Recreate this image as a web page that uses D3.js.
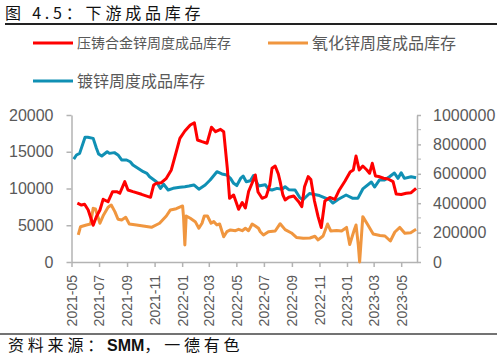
<!DOCTYPE html>
<html>
<head>
<meta charset="utf-8">
<script src="https://cdn.jsdelivr.net/npm/d3@7"></script>
<style>
  body { margin: 0; background: #fff; }
  text { font-family: "Liberation Sans", "Noto Sans CJK SC", sans-serif; }
  .cjk { font-family: "Noto Sans CJK SC", sans-serif; }
</style>
</head>
<body>
<div id="chart"></div>
<script>
// 数据：压铸合金锌周度成品库存（左轴）
const redDates = ["2021-05-14","2021-05-23","2021-05-30","2021-06-07","2021-06-18","2021-06-25","2021-07-03","2021-07-10","2021-07-21","2021-07-31","2021-08-09","2021-08-16","2021-08-27","2021-09-03","2021-09-14","2021-10-03","2021-10-23","2021-10-30","2021-11-05","2021-11-16","2021-11-27","2021-12-08","2021-12-18","2021-12-27","2022-01-07","2022-01-19","2022-01-28","2022-02-04","2022-02-14","2022-02-25","2022-03-07","2022-03-16","2022-03-27","2022-04-03","2022-04-11","2022-04-16","2022-04-25","2022-05-06","2022-05-14","2022-05-21","2022-05-28","2022-06-05","2022-06-12","2022-06-18","2022-06-27","2022-07-06","2022-07-14","2022-07-19","2022-07-26","2022-08-02","2022-08-06","2022-08-12","2022-08-17","2022-08-25","2022-09-05","2022-09-16","2022-09-23","2022-09-29","2022-10-07","2022-10-13","2022-10-21","2022-10-29","2022-11-05","2022-11-13","2022-11-24","2022-12-05","2022-12-15","2022-12-27","2023-01-08","2023-01-15","2023-01-21","2023-01-28","2023-02-05","2023-02-14","2023-02-20","2023-02-26","2023-03-05","2023-03-12","2023-03-23","2023-04-02","2023-04-13","2023-04-20","2023-05-01","2023-05-12","2023-05-23","2023-06-03"];
const redValues = [8000,7750,7850,7080,4990,6160,7080,8530,8200,9570,9570,9350,10930,9800,9570,9210,8800,10480,10710,10790,11390,12520,14790,16830,17820,18640,18950,16600,16370,16150,18330,17730,18050,17730,12750,8670,9120,7170,8100,7350,9570,10750,11840,9530,8670,8890,10480,12750,13060,11970,10930,9120,8440,8800,8980,8210,7530,10250,11610,11230,8300,6170,4700,8300,8780,8530,9800,10950,12250,12520,14420,12520,13060,12520,12070,13430,11700,11630,11390,11290,10930,9250,9190,9350,9430,10030];

// 氧化锌周度成品库存（左轴）
const orangeDates = ["2021-05-16","2021-05-21","2021-06-03","2021-06-12","2021-06-18","2021-06-23","2021-07-03","2021-07-11","2021-07-21","2021-07-28","2021-08-05","2021-08-12","2021-08-20","2021-08-29","2021-09-06","2021-09-22","2021-10-25","2021-11-12","2021-11-27","2021-12-06","2021-12-19","2022-01-02","2022-01-04","2022-01-07","2022-01-10","2022-01-19","2022-01-30","2022-02-07","2022-02-14","2022-02-19","2022-02-26","2022-03-06","2022-03-12","2022-03-19","2022-03-25","2022-04-03","2022-04-10","2022-04-18","2022-04-29","2022-05-06","2022-05-14","2022-05-21","2022-05-28","2022-06-05","2022-06-12","2022-06-19","2022-06-23","2022-06-30","2022-07-11","2022-07-26","2022-08-06","2022-08-17","2022-08-31","2022-09-11","2022-09-26","2022-10-11","2022-10-22","2022-10-29","2022-11-09","2022-11-19","2022-11-26","2022-12-09","2022-12-20","2022-12-31","2023-01-07","2023-01-17","2023-01-21","2023-01-26","2023-01-29","2023-02-05","2023-02-15","2023-02-28","2023-03-15","2023-03-26","2023-04-07","2023-04-17","2023-04-28","2023-05-09","2023-05-22","2023-06-03"];
const orangeValues = [3680,4800,5040,5170,7300,7210,5270,6400,7440,7760,6850,5810,5720,6080,5170,5040,4720,5270,6260,7080,7250,7620,6190,2320,6260,5950,5490,4590,5270,6260,6260,5270,5490,5040,5170,3440,4120,4360,4260,4450,4260,4590,4260,5170,4900,4590,4120,3680,4120,4220,5210,4400,3950,3340,3230,3270,3500,3000,3540,5170,4220,4290,4220,4700,2380,4360,5040,2320,0,6170,5170,3810,3610,3540,2860,4080,4700,3910,3990,4450];

// 镀锌周度成品库存（右轴）
const blueDates = ["2021-05-06","2021-05-12","2021-05-19","2021-05-31","2021-06-06","2021-06-18","2021-06-25","2021-06-30","2021-07-07","2021-07-19","2021-07-24","2021-08-04","2021-08-12","2021-08-20","2021-08-31","2021-09-08","2021-09-14","2021-10-07","2021-10-15","2021-10-21","2021-11-05","2021-11-14","2021-11-21","2021-12-01","2021-12-12","2021-12-27","2022-01-07","2022-01-16","2022-01-27","2022-02-07","2022-02-21","2022-03-04","2022-03-19","2022-03-30","2022-04-10","2022-04-18","2022-04-25","2022-05-02","2022-05-11","2022-05-16","2022-05-23","2022-06-01","2022-06-08","2022-06-19","2022-07-04","2022-07-11","2022-07-19","2022-07-30","2022-08-10","2022-08-17","2022-08-25","2022-09-08","2022-09-18","2022-09-25","2022-10-10","2022-11-01","2022-11-24","2022-12-01","2022-12-12","2022-12-30","2023-01-14","2023-01-25","2023-02-05","2023-02-24","2023-03-03","2023-03-14","2023-03-25","2023-04-05","2023-04-16","2023-04-24","2023-05-01","2023-05-08","2023-05-23","2023-06-03"];
const blueValues = [700000,728000,739000,848000,848000,841000,775000,735000,721000,750000,739000,744000,728000,694000,694000,682000,660000,614000,603000,580000,546000,501000,529000,490000,501000,508000,512000,517000,524000,495000,524000,558000,614000,599000,592000,569000,535000,520000,571000,585000,546000,553000,588000,517000,526000,495000,490000,501000,495000,512000,492000,490000,440000,422000,466000,452000,422000,401000,425000,456000,433000,433000,497000,544000,510000,558000,558000,580000,605000,569000,607000,569000,580000,573000];

const leftTicks = [0, 5000, 10000, 15000, 20000];
const rightTicks = [0, 200000, 400000, 600000, 800000, 1000000];
const rightMinor = [100000, 300000, 500000, 700000, 900000];

const W = 497, H = 362;
const plot = { left: 71.5, right: 417, top: 115, bottom: 262 };
const parse = d3.timeParse("%Y-%m-%d");
const axisGrey = "#b3b3b3";
const labelGrey = "#595959";

var svg = d3.select("#chart").append("svg")
  .attr("width", W).attr("height", H);

// 标题与分隔线
svg.append("text").attr("class", "cjk")
  .attr("x", 5).attr("y", 19)
  .style("font-size", "16px").style("letter-spacing", "3.8px").style("fill", "#111")
  .text("图 4.5：下游成品库存");
svg.append("line").attr("x1", 5).attr("x2", W).attr("y1", 24).attr("y2", 24)
  .attr("stroke", "#222").attr("stroke-width", 2);
svg.append("line").attr("x1", 0).attr("x2", W).attr("y1", 334).attr("y2", 334)
  .attr("stroke", "#444").attr("stroke-width", 1.5);

let source = svg.append("text").attr("class", "cjk")
  .attr("x", 8).attr("y", 351)
  .style("font-size", "16px").style("fill", "#111");
source.append("tspan").style("letter-spacing", "3.8px").text("资料来源：");
source.append("tspan")
  .style("font-family", "'Liberation Sans Narrow', 'Liberation Sans', sans-serif")
  .style("font-weight", "bold").style("font-size", "16px")
  .text("SMM");
source.append("tspan").style("letter-spacing", "3.8px").text("，一德有色");

// 比例尺
let x = d3.scaleTime()
  .domain([parse("2021-05-01"), parse("2023-06-05")])
  .range([plot.left, plot.right]);
let yL = d3.scaleLinear().domain([0, 20000]).range([plot.bottom, plot.top]);
let yR = d3.scaleLinear().domain([0, 1000000]).range([plot.bottom, plot.top]);

// 坐标轴
let xAxis = svg.append("g")
  .attr("transform", "translate(0," + plot.bottom + ")")
  .call(d3.axisBottom(x).ticks(d3.timeMonth.every(2)).tickSize(5).tickSizeOuter(0).tickFormat(d3.timeFormat("%Y-%m")));
xAxis.selectAll("text")
  .attr("transform", "translate(0,13) rotate(-90)")
  .attr("x", 0).attr("y", 0).attr("dy", "0.35em")
  .style("text-anchor", "end")
  .style("font-size", "14px").style("fill", labelGrey);

let leftAxis = svg.append("g")
  .attr("transform", "translate(" + plot.left + ",0)")
  .call(d3.axisLeft(yL).tickValues(leftTicks).tickSize(5).tickSizeOuter(0).tickPadding(13).tickFormat(d3.format("d")));
leftAxis.selectAll("text").style("font-size", "16px").style("fill", labelGrey);

let rightAxis = svg.append("g")
  .attr("transform", "translate(" + plot.right + ",0)")
  .call(d3.axisRight(yR).tickValues(rightTicks).tickSize(4).tickSizeOuter(0).tickPadding(12).tickFormat(d3.format("d")));
rightAxis.selectAll("text").style("font-size", "16px").style("fill", labelGrey);
rightAxis.selectAll(".minor")
  .data(rightMinor).enter().append("line")
  .attr("x1", 0).attr("x2", 4)
  .attr("y1", function (d) { return yR(d); })
  .attr("y2", function (d) { return yR(d); })
  .attr("stroke", axisGrey);

svg.selectAll(".domain, .tick line")
  .attr("stroke", axisGrey).attr("stroke-width", 1.5);

// 折线
function toPoints(dates, values) {
  return dates.map(function (d, i) { return { date: parse(d), value: values[i] }; });
}

let series = [
  { name: "orange", points: toPoints(orangeDates, orangeValues), y: yL, color: "#f0963f" },
  { name: "blue", points: toPoints(blueDates, blueValues), y: yR, color: "#1090b4" },
  { name: "red", points: toPoints(redDates, redValues), y: yL, color: "#ff0000" }
];

series.forEach(function (s) {
  let line = d3.line()
    .x(function (d) { return x(d.date); })
    .y(function (d) { return s.y(d.value); });
  svg.append("path")
    .datum(s.points)
    .attr("d", line)
    .attr("fill", "none")
    .attr("stroke", s.color)
    .attr("stroke-width", 3)
    .attr("stroke-linejoin", "round");
});

// 图例
let legend = [
  { label: "压铸合金锌周度成品库存", color: "#ff0000", x: 33, y: 43, size: 14 },
  { label: "氧化锌周度成品库存", color: "#f0963f", x: 268, y: 43, size: 16 },
  { label: "镀锌周度成品库存", color: "#1090b4", x: 33, y: 81, size: 16 }
];
let lg = svg.selectAll(".legend").data(legend).enter().append("g");
lg.append("line")
  .attr("x1", function (d) { return d.x; })
  .attr("x2", function (d) { return d.x + 40; })
  .attr("y1", function (d) { return d.y; })
  .attr("y2", function (d) { return d.y; })
  .attr("stroke", function (d) { return d.color; })
  .attr("stroke-width", 3);
lg.append("text").attr("class", "cjk")
  .attr("x", function (d) { return d.x + 44; })
  .attr("y", function (d) { return d.y; })
  .attr("dy", "0.35em")
  .style("font-size", function (d) { return d.size + "px"; })
  .style("fill", labelGrey)
  .text(function (d) { return d.label; });
</script>
</body>
</html>
